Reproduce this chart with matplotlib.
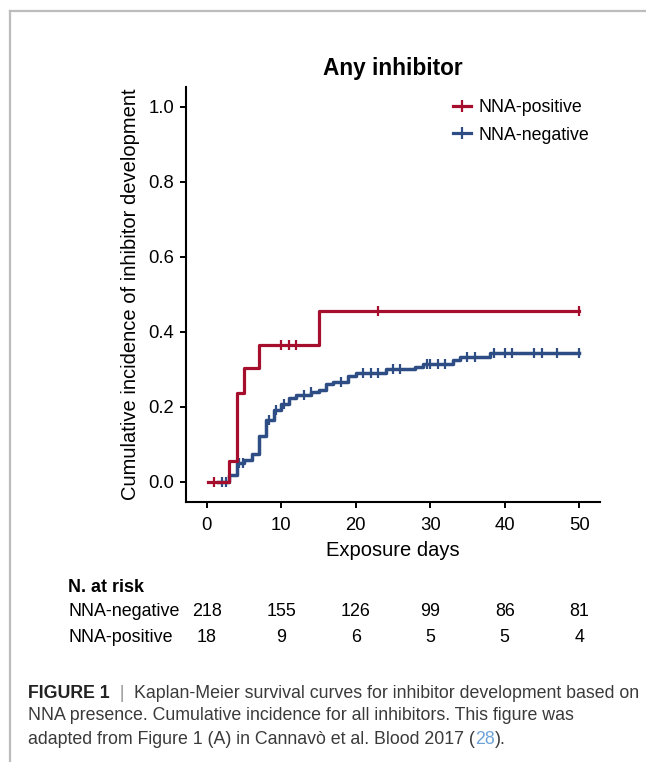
import numpy as np
import matplotlib
matplotlib.use("Agg")
import matplotlib.pyplot as plt
from matplotlib.lines import Line2D

plt.rcParams['font.family'] = ['Liberation Sans', 'DejaVu Sans']

# step curves (time, cumulative incidence)
pos_t = [0.2, 3, 4, 5, 7, 15, 50]
pos_y = [0.0, 0.056, 0.237, 0.302, 0.365, 0.455, 0.455]
pos_cens = [1, 10, 11, 12, 23, 50]

neg_t = [1.5, 3, 4, 5, 6, 7, 8, 9, 10, 11, 12, 14, 15, 16, 17, 19, 20, 24, 28,
         29, 33, 34, 38, 50]
neg_y = [0.0, 0.018, 0.051, 0.058, 0.073, 0.122, 0.165, 0.191, 0.207, 0.222,
         0.232, 0.239, 0.245, 0.26, 0.267, 0.283, 0.291, 0.30, 0.305, 0.314,
         0.325, 0.333, 0.342, 0.342]
neg_cens = [2, 2.6, 4.3, 4.9, 8.3, 9.3, 10.3, 13, 14, 18, 21, 22, 23, 25, 26,
            29.5, 30, 31, 32, 35, 36, 38.5, 40, 41, 44, 45, 47, 50]

risk_days = [0, 10, 20, 30, 40, 50]
risk_neg = [218, 155, 126, 99, 86, 81]
risk_pos = [18, 9, 6, 5, 5, 4]

red = '#a50f2d'
blue = '#2e4d85'


def at(ts, ys, c):
    ts = np.asarray(ts)
    idx = np.searchsorted(ts, c, side='right') - 1
    return np.asarray(ys)[np.clip(idx, 0, len(ys) - 1)]


W, H = 646, 762
fig = plt.figure(figsize=(W / 100, H / 100), dpi=100)
ax = fig.add_axes([186 / W, 1 - 502 / H, (600 - 186) / W, (502 - 87) / H])

ax.step(neg_t, neg_y, where='post', color=blue, lw=2.5, zorder=2)
ax.plot(neg_cens, at(neg_t, neg_y, neg_cens), ls='none', marker='|', ms=7.5,
        mew=1.6, color=blue, zorder=2)
ax.step(pos_t, pos_y, where='post', color=red, lw=2.3, zorder=3)
ax.plot(pos_cens, at(pos_t, pos_y, pos_cens), ls='none', marker='|', ms=7.5,
        mew=1.6, color=red, zorder=3)

ax.set_xlim(-2.8, 52.8)
ax.set_ylim(-0.054, 1.052)
ax.set_xticks(risk_days)
ax.set_yticks([0, 0.2, 0.4, 0.6, 0.8, 1.0])
ax.set_yticklabels(['0.0', '0.2', '0.4', '0.6', '0.8', '1.0'])
for s in ['top', 'right']:
    ax.spines[s].set_visible(False)
for s in ['left', 'bottom']:
    ax.spines[s].set_linewidth(1.5)
ax.tick_params(direction='out', length=4.5, width=1.4, labelsize=13.3,
               colors='black')
ax.tick_params(axis='x', pad=6)
ax.tick_params(axis='y', pad=4)
ax.set_xlabel('Exposure days', fontsize=14.5, labelpad=5)
ax.set_ylabel('Cumulative incidence of inhibitor development', fontsize=14.5,
              labelpad=6)
ax.set_title('Any inhibitor', fontsize=16.3, fontweight='bold', pad=9)

handles = [Line2D([], [], color=red, lw=2.3, marker='|', ms=9, mew=1.6),
           Line2D([], [], color=blue, lw=2.3, marker='|', ms=9, mew=1.6)]
fig.legend(handles, ['NNA-positive', 'NNA-negative'], loc='upper left',
           bbox_to_anchor=(453 / W, 1 - 99 / H), frameon=False, fontsize=12.8,
           borderpad=0, borderaxespad=0, handlelength=1.0, handletextpad=0.45,
           labelspacing=0.6, numpoints=1)

# risk table
tfs = 12.9
fig.text(68 / W, 1 - 587 / H, 'N. at risk', fontsize=tfs, fontweight='bold',
         va='center')
fig.text(68 / W, 1 - 612 / H, 'NNA-negative', fontsize=tfs, va='center')
fig.text(68 / W, 1 - 637 / H, 'NNA-positive', fontsize=tfs, va='center')
tr = matplotlib.transforms.blended_transform_factory(ax.transData, fig.transFigure)
for d, n1, n2 in zip(risk_days, risk_neg, risk_pos):
    ax.text(d, 1 - 612 / H, str(n1), transform=tr, ha='center', va='center',
            fontsize=tfs)
    ax.text(d, 1 - 637 / H, str(n2), transform=tr, ha='center', va='center',
            fontsize=tfs)

# frame lines
grey = '#bcbcbc'
fig.add_artist(Line2D([10 / W, 1], [1 - 11 / H, 1 - 11 / H], color=grey, lw=1.6,
                      transform=fig.transFigure))
fig.add_artist(Line2D([10 / W, 10 / W], [1 - 11 / H, 0], color=grey, lw=1.6,
                      transform=fig.transFigure))

# caption, pieces placed one after another
cap_col = '#3a3a3a'
cap_fs = 12.75
fig.canvas.draw()
rend = fig.canvas.get_renderer()


def pieces(y, parts):
    x = 28
    for txt, kw in parts:
        t = fig.text(x / W, 1 - y / H, txt, fontsize=cap_fs, va='center', **kw)
        bb = t.get_window_extent(rend)
        x += bb.width


pieces(693, [('FIGURE 1', dict(fontweight='bold', color='#222222')),
             ('  |  ', dict(color='#999999')),
             ('Kaplan-Meier survival curves for inhibitor development based on',
              dict(color=cap_col))])
pieces(716, [('NNA presence. Cumulative incidence for all inhibitors. This figure was',
              dict(color=cap_col))])
pieces(739, [('adapted from Figure 1 (A) in Cannavò et al. Blood 2017 (',
              dict(color=cap_col)),
             ('28', dict(color='#6fa3d8')),
             (').', dict(color=cap_col))])

fig.savefig('out.png', dpi=100)
